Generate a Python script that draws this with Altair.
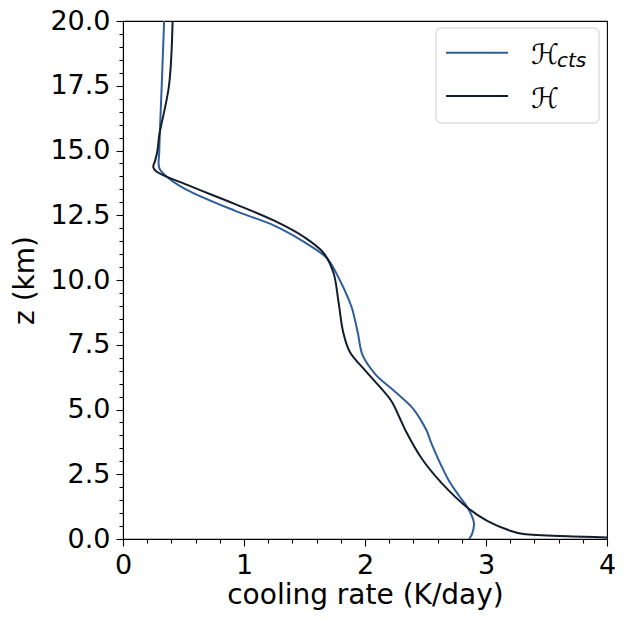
import altair as alt
import pandas as pd

# H_cts (blue) profile: altitude (km) and cooling rate (K/day)
z_cts = [20, 17.5, 15, 14.32, 14.0, 13.50, 12.67, 12.10, 11.47, 10.84, 10.01, 9.19, 8.87,
         7.98, 7.10, 6.34, 5.77, 5.07, 4.6, 4.18, 3.80, 3.30, 2.79, 2.28, 1.65, 1.20, 0.63,
         0.2, 0]
h_cts = [0.34, 0.32, 0.30, 0.30, 0.36, 0.52, 0.927, 1.25, 1.496, 1.685, 1.79, 1.87, 1.895,
         1.94, 1.98, 2.09, 2.228, 2.39, 2.46, 2.51, 2.54, 2.585, 2.635, 2.69, 2.78, 2.85, 2.90,
         2.885, 2.86]

# H (dark) profile
z_tot = [20, 17.5, 15.6, 15.0, 14.6, 14.36, 14.19, 13.69, 12.93, 12.29, 11.66, 11.03, 10.27,
         9.19, 7.98, 7.22, 6.46, 5.35, 4.69, 4.18, 3.1, 2.16, 1.20, 0.70, 0.32, 0.19, 0.10,
         0.06, 0.02]
h_tot = [0.41, 0.38, 0.30, 0.285, 0.265, 0.25, 0.276, 0.52, 0.927, 1.25, 1.496, 1.66, 1.74,
         1.78, 1.82, 1.875, 2.01, 2.215, 2.285, 2.336, 2.47, 2.634, 2.85, 3.01, 3.20, 3.31, 3.72,
         4.0, 4.3]

series_names = ["cts", "total"]
series_colors = ["#2f5e9c", "#131c2b"]

x_ticks = [0, 1, 2, 3, 4]
x_minor = [round(0.2 * i, 1) for i in range(21) if i % 5 != 0]
y_ticks = [0, 2.5, 5, 7.5, 10, 12.5, 15, 17.5, 20]
y_minor = [round(0.5 * i, 1) for i in range(41) if i % 5 != 0]

rows = []
for i, (z, h) in enumerate(zip(z_cts, h_cts)):
    rows.append({"series": "cts", "z": z, "h": h, "idx": i})
for i, (z, h) in enumerate(zip(z_tot, h_tot)):
    rows.append({"series": "total", "z": z, "h": h, "idx": i})
df = pd.DataFrame(rows)

FONT = "DejaVu Sans"
W, H = 484, 518

xscale = alt.Scale(domain=[0, 4], nice=False, zero=False)
yscale = alt.Scale(domain=[0, 20], nice=False, zero=False)

lines = alt.Chart(df).mark_line(strokeWidth=2, clip=True, interpolate="catmull-rom").encode(
    x=alt.X("h:Q", scale=xscale,
            axis=alt.Axis(orient="bottom", values=x_ticks, format="d", tickSize=7,
                          labelPadding=6, labelFlush=False, title="cooling rate (K/day)",
                          titleFontSize=28, titleFontWeight="normal", titlePadding=3)),
    y=alt.Y("z:Q", scale=yscale,
            axis=alt.Axis(orient="left", values=y_ticks, format=".1f", tickSize=7,
                          labelPadding=6, labelFlush=False, title="z (km)", titleFontSize=28,
                          titleFontWeight="normal", titlePadding=10)),
    color=alt.Color("series:N", scale=alt.Scale(domain=series_names, range=series_colors),
                    legend=None),
    order="idx:Q",
)

minor = alt.Chart(df).mark_point(opacity=0).encode(
    x=alt.X("h:Q", scale=xscale,
            axis=alt.Axis(orient="bottom", values=x_minor, labels=False, tickSize=4,
                          domain=False, title=None)),
    y=alt.Y("z:Q", scale=yscale,
            axis=alt.Axis(orient="left", values=y_minor, labels=False, tickSize=4,
                          domain=False, title=None)),
)

one = pd.DataFrame({"k": [0]})
box = alt.Chart(one).mark_rect(fill="white", fillOpacity=0.8, stroke="#cccccc",
                               strokeWidth=1, cornerRadius=5).encode(
    x=alt.value(313), x2=alt.value(476), y=alt.value(7), y2=alt.value(102))
leg_line1 = alt.Chart(one).mark_rule(strokeWidth=2, color=series_colors[0]).encode(
    x=alt.value(323), x2=alt.value(385), y=alt.value(31.7))
leg_line2 = alt.Chart(one).mark_rule(strokeWidth=2, color=series_colors[1]).encode(
    x=alt.value(323), x2=alt.value(385), y=alt.value(75))
leg_t1 = alt.Chart(one).mark_text(text="ℋ", font=FONT, fontSize=28, align="left",
                                  baseline="alphabetic", fontStyle="italic", color="black").encode(
    x=alt.value(408), y=alt.value(43))
leg_sub = alt.Chart(one).mark_text(text="cts", font=FONT, fontSize=20, align="left",
                                   baseline="alphabetic", fontStyle="italic", color="black").encode(
    x=alt.value(434), y=alt.value(46))
leg_t2 = alt.Chart(one).mark_text(text="ℋ", font=FONT, fontSize=28, align="left",
                                  baseline="alphabetic", fontStyle="italic", color="black").encode(
    x=alt.value(408), y=alt.value(87))

chart = alt.layer(lines, minor, box, leg_line1, leg_line2, leg_t1, leg_sub, leg_t2).resolve_axis(
    x="independent", y="independent"
).properties(
    width=W, height=H,
    autosize=alt.AutoSizeParams(type="none"),
    padding={"left": 115, "top": 13, "right": 9, "bottom": 75},
).configure_view(
    stroke="black", strokeWidth=1.1
).configure_axis(
    grid=False, labelFont=FONT, titleFont=FONT, labelFontSize=27, labelColor="black",
    titleColor="black", tickColor="black", domainColor="black", tickWidth=1.1,
    domainWidth=1.1
)

chart.save("out.html", embed_options={"renderer": "svg", "actions": False})
